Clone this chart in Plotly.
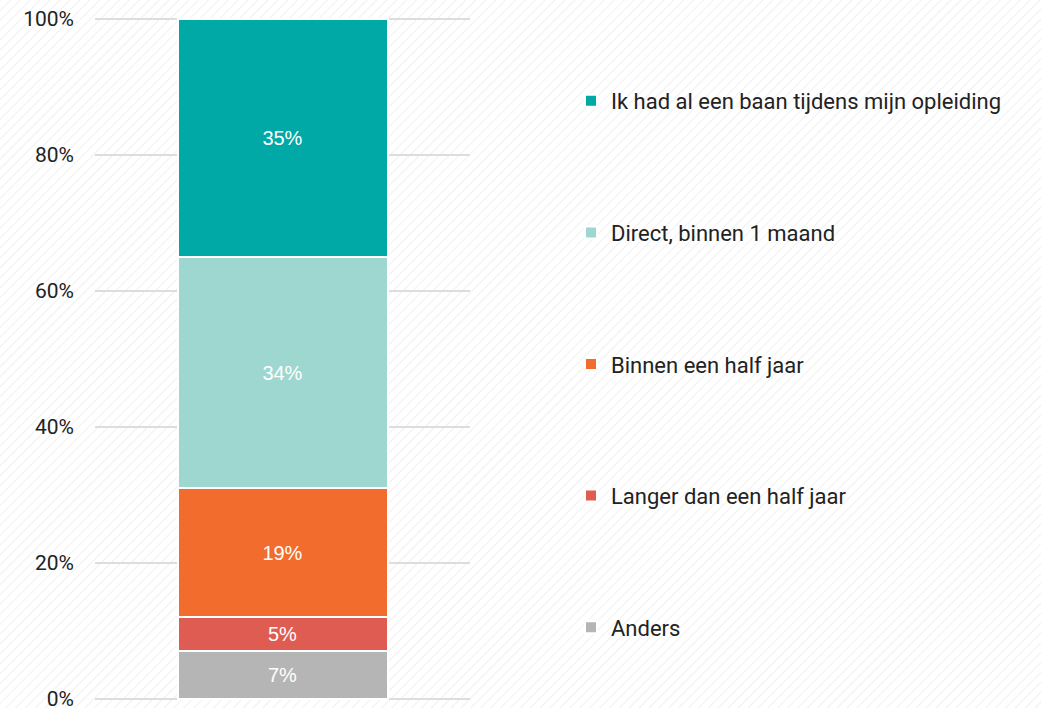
import base64
import plotly.graph_objects as go

categories = ["Anders", "Langer dan een half jaar", "Binnen een half jaar",
              "Direct, binnen 1 maand", "Ik had al een baan tijdens mijn opleiding"]
values = [7, 5, 19, 34, 35]
colors = ["#B5B5B5", "#DF5C52", "#F26C2E", "#9DD7CF", "#00A9A5"]
tick_vals = [0, 20, 40, 60, 80, 100]
tick_text = ["0%", "20%", "40%", "60%", "80%", "100%"]

W, H = 1041, 708
ml, mr, mt, mb = 95, 571, 18, 8
pw, ph = W - ml - mr, H - mt - mb

fig = go.Figure()
n = len(categories)
for i, (cat, v, c) in enumerate(zip(categories, values, colors)):
    fig.add_trace(go.Bar(
        x=["A"], y=[v], name=cat, marker=dict(color=c, line=dict(color="white", width=2)),
        text=[f"{v}%"], textposition="inside", insidetextanchor="middle",
        textfont=dict(color="white", size=20, family="Liberation Sans, Arial, sans-serif"),
        width=0.56, legendgroup=f"g{i}", legendrank=n - i, hoverinfo="skip",
    ))

svg = (f'<svg xmlns="http://www.w3.org/2000/svg" width="{W}" height="{H}">'
       '<defs><pattern id="p" width="7" height="7" patternUnits="userSpaceOnUse" '
       'patternTransform="rotate(45)"><line x1="0" y1="0" x2="0" y2="7" stroke="#ececec" stroke-width="1.6"/>'
       '</pattern></defs><rect width="100%" height="100%" fill="white"/>'
       '<rect width="100%" height="100%" fill="url(#p)"/></svg>')
src = "data:image/svg+xml;base64," + base64.b64encode(svg.encode()).decode()

fig.update_layout(
    width=W, height=H,
    barmode="stack",
    margin=dict(l=ml, r=mr, t=mt, b=mb, autoexpand=False),
    paper_bgcolor="white",
    plot_bgcolor="rgba(0,0,0,0)",
    font=dict(family="Roboto, sans-serif", size=22, color="#222222"),
    images=[dict(source=src, xref="paper", yref="paper",
                 x=-ml / pw, y=1 + mt / ph, sizex=W / pw, sizey=H / ph,
                 xanchor="left", yanchor="top", sizing="stretch", layer="below")],
    xaxis=dict(visible=False, range=[-0.5, 0.5]),
    yaxis=dict(range=[-0.15, 100.15], tickvals=tick_vals, ticktext=tick_text,
               showgrid=True, gridcolor="#dddddd", gridwidth=2,
               zeroline=False, showline=False, ticks="", ticklabelstandoff=20,
               automargin=False, ticklabeloverflow="allow",
               tickfont=dict(size=21, color="#222222")),
    showlegend=True,
    legend=dict(traceorder="grouped", tracegroupgap=100,
                x=(571 - ml) / pw, xanchor="left",
                y=1 - (80 - mt) / ph, yanchor="top",
                bgcolor="rgba(0,0,0,0)",
                font=dict(size=22, color="#222222")),
)

fig.write_html("out.html", config={"displayModeBar": False},
               post_script="document.body.style.margin='0';document.body.style.overflow='hidden';")
